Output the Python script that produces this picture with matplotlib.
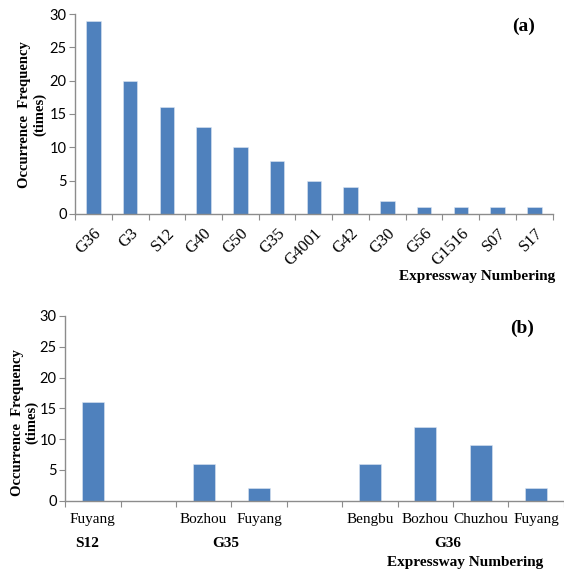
import matplotlib
matplotlib.use("Agg")
import matplotlib.pyplot as plt
import numpy as np
from matplotlib.transforms import blended_transform_factory

# Panel (a): occurrences per expressway
roads_a = ["G36", "G3", "S12", "G40", "G50", "G35", "G4001", "G42", "G30",
           "G56", "G1516", "S07", "S17"]
counts_a = [29, 20, 16, 13, 10, 8, 5, 4, 2, 1, 1, 1, 1]

# Panel (b): occurrences per city within selected expressways
cities_b = ["Fuyang", "", "Bozhou", "Fuyang", "", "Bengbu", "Bozhou", "Chuzhou", "Fuyang"]
counts_b = [16, 0, 6, 2, 0, 6, 12, 9, 2]
groups_b = ["S12", "G35", "G36"]
group_span_b = [(0, 0), (2, 3), (5, 8)]

yticks = [0, 5, 10, 15, 20, 25, 30]

BAR = "#4F81BD"
AXC = "#8C8C8C"
SERIF = "Liberation Serif"
SANS = "Lato"

fig = plt.figure(figsize=(5.64, 5.72), dpi=100)


def style_axes(ax, n):
    for s in ("top", "right"):
        ax.spines[s].set_visible(False)
    for s in ("left", "bottom"):
        ax.spines[s].set_color(AXC)
        ax.spines[s].set_linewidth(1.0)
    ax.set_xlim(-0.5, n - 0.5)
    ax.set_ylim(0, 30)
    ax.set_yticks(yticks)
    ax.set_yticklabels([str(v) for v in yticks], fontfamily=SANS, fontsize=10.5)
    ax.tick_params(axis="y", direction="out", length=4, color=AXC, pad=2)
    # category boundary ticks
    ax.set_xticks(np.arange(-0.5, n, 1.0))
    ax.set_xticklabels([])
    ax.tick_params(axis="x", which="major", direction="out", length=4, color=AXC)
    ax.set_xticks(np.arange(n), minor=True)
    ax.tick_params(axis="x", which="minor", length=0)


# ---- panel (a)
ax1 = fig.add_axes([0.133, 0.626, 0.847, 0.3495])
x1 = np.arange(len(roads_a))
ax1.bar(x1, counts_a, width=0.4, color=BAR, edgecolor="#DCE6F2", linewidth=0.4)
style_axes(ax1, len(roads_a))
ax1.set_xticklabels(roads_a, minor=True, rotation=45, ha="right",
                    rotation_mode="anchor", fontfamily=SERIF, fontsize=12)
ax1.tick_params(axis="x", which="minor", pad=8)
fig.text(0.057, 0.80, "Occurrence  Frequency\n(times)",
         rotation=90, ha="center", va="center", fontfamily=SERIF,
         fontweight="bold", fontsize=10.5, linespacing=1.1)
ax1.text(0.94, 0.94, "(a)", transform=ax1.transAxes, ha="center", va="center",
         fontfamily=SERIF, fontweight="bold", fontsize=14)
fig.text(0.846, 0.516, "Expressway Numbering", ha="center", va="center",
         fontfamily=SERIF, fontweight="bold", fontsize=11)

# ---- panel (b)
ax2 = fig.add_axes([0.1155, 0.1246, 0.884, 0.323])
x2 = np.arange(len(cities_b))
ax2.bar(x2, counts_b, width=0.4, color=BAR, edgecolor="#DCE6F2", linewidth=0.4)
style_axes(ax2, len(cities_b))
ax2.set_xticklabels(cities_b, minor=True, fontfamily=SERIF, fontsize=11)
ax2.tick_params(axis="x", which="minor", pad=9)
fig.text(0.044, 0.262, "Occurrence  Frequency\n(times)",
         rotation=90, ha="center", va="center", fontfamily=SERIF,
         fontweight="bold", fontsize=10.5, linespacing=1.1)
ax2.text(0.916, 0.935, "(b)", transform=ax2.transAxes, ha="center", va="center",
         fontfamily=SERIF, fontweight="bold", fontsize=14)
tr = blended_transform_factory(ax2.transData, fig.transFigure)
for name, (a, b) in zip(groups_b, group_span_b):
    ax2.text((a + b) / 2 - 0.1, 0.049, name, transform=tr, ha="center", va="center",
             fontfamily=SERIF, fontweight="bold", fontsize=11)
fig.text(0.824, 0.016, "Expressway Numbering", ha="center", va="center",
         fontfamily=SERIF, fontweight="bold", fontsize=11)

fig.savefig("out.png", dpi=100)
